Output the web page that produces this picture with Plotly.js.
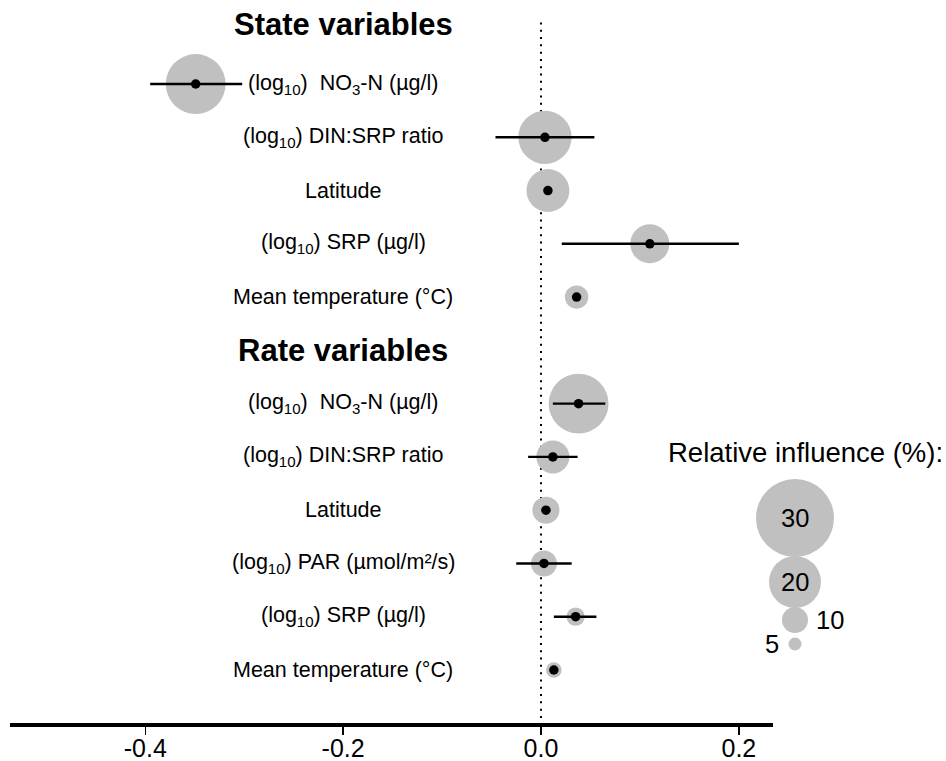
<!DOCTYPE html>
<html>
<head>
<meta charset="utf-8">
<script src="https://cdn.plot.ly/plotly-3.0.1.min.js"></script>
<style>html,body{margin:0;padding:0;background:#fff;}#chart{width:946px;height:761px;}</style>
</head>
<body>
<div id="chart"></div>
<script>
// ---- data ----
const sectionTitles = ['State variables', 'Rate variables'];

const stateLabels = [
  '(log<sub>10</sub>)  NO<sub>3</sub>-N (µg/l)',
  '(log<sub>10</sub>) DIN:SRP ratio',
  'Latitude',
  '(log<sub>10</sub>) SRP (µg/l)',
  'Mean temperature (°C)'
];
const stateEstimate  = [-0.349, 0.004, 0.007, 0.110, 0.036];
const stateLower     = [-0.395, -0.046, 0.007, 0.021, 0.033];
const stateUpper     = [-0.302, 0.054, 0.007, 0.200, 0.039];
const stateInfluence = [23, 20.5, 16.5, 15, 9];

const rateLabels = [
  '(log<sub>10</sub>)  NO<sub>3</sub>-N (µg/l)',
  '(log<sub>10</sub>) DIN:SRP ratio',
  'Latitude',
  '(log<sub>10</sub>) PAR (µmol/m²/s)',
  '(log<sub>10</sub>) SRP (µg/l)',
  'Mean temperature (°C)'
];
const rateEstimate  = [0.038, 0.012, 0.005, 0.003, 0.035, 0.013];
const rateLower     = [0.012, -0.013, 0.005, -0.025, 0.013, 0.010];
const rateUpper     = [0.065, 0.037, 0.005, 0.031, 0.056, 0.016];
const rateInfluence = [23, 12.7, 10.4, 10, 7, 6];

const legendValues = [30, 20, 10, 5];
const legendTitle  = 'Relative influence (%):';
const xTickVals  = [-0.4, -0.2, 0.0, 0.2];
const xTickText  = ['-0.4', '-0.2', '0.0', '0.2'];

// ---- build ----
(function () {
const FONT = 'Liberation Sans, Arial, Helvetica, sans-serif';
const SIZE_PER_PCT = 2.6;     // marker diameter (px) per % of influence
const LABEL_X = -0.2;          // centre of the row labels (data units)
const GREY = '#c0c0c0';

// layout constants for the size key (pixel positions on a full-page helper axis)
const KEY_X = 795;
const KEY_Y = [518, 582, 620, 644];
const KEY_LABEL_X = [KEY_X, KEY_X, 830, 772];

const stateRows = stateLabels.map((_, i) => i + 1);
const rateRows  = rateLabels.map((_, i) => stateLabels.length + 2 + i);
const titleRows = [-0.11, stateLabels.length + 1];

const labels    = stateLabels.concat(rateLabels);
const est       = stateEstimate.concat(rateEstimate);
const lo        = stateLower.concat(rateLower);
const hi        = stateUpper.concat(rateUpper);
const infl      = stateInfluence.concat(rateInfluence);
const rows      = stateRows.concat(rateRows);

const circles = {
  type: 'scatter', mode: 'markers', x: est, y: rows, hoverinfo: 'skip',
  marker: { color: GREY, opacity: 1, size: infl.map(v => v * SIZE_PER_PCT), line: { width: 0 } },
  cliponaxis: false, showlegend: false
};
const dots = {
  type: 'scatter', mode: 'markers', x: est, y: rows, hoverinfo: 'skip',
  marker: { color: '#000', opacity: 1, size: 9.5 },
  error_x: {
    type: 'data', symmetric: false,
    array: hi.map((h, i) => h - est[i]),
    arrayminus: lo.map((l, i) => est[i] - l),
    color: '#000', thickness: 2.4, width: 0
  },
  cliponaxis: false, showlegend: false
};

const legendTrace = {
  type: 'scatter', mode: 'markers', xaxis: 'x2', yaxis: 'y2',
  x: legendValues.map(() => KEY_X), y: KEY_Y,
  marker: { color: GREY, opacity: 1, size: legendValues.map(v => v * SIZE_PER_PCT), line: { width: 0 } },
  hoverinfo: 'skip', cliponaxis: false, showlegend: false
};

const annotations = [];
labels.forEach((t, i) => annotations.push({
  x: LABEL_X, y: rows[i], xref: 'x', yref: 'y', text: t, showarrow: false,
  xanchor: 'center', yanchor: 'middle', font: { family: FONT, size: 21.5, color: '#000' }
}));
sectionTitles.forEach((t, i) => annotations.push({
  x: LABEL_X, y: titleRows[i], xref: 'x', yref: 'y', text: '<b>' + t + '</b>', showarrow: false,
  xanchor: 'center', yanchor: 'middle', font: { family: FONT, size: 31, color: '#000' }
}));
annotations.push({
  x: 805, y: 452, xref: 'x2', yref: 'y2', text: legendTitle, showarrow: false,
  xanchor: 'center', yanchor: 'middle', font: { family: FONT, size: 27.5, color: '#000' }
});
legendValues.forEach((v, i) => annotations.push({
  x: KEY_LABEL_X[i], y: KEY_Y[i], xref: 'x2', yref: 'y2', text: String(v), showarrow: false,
  xanchor: 'center', yanchor: 'middle', font: { family: FONT, size: 25.5, color: '#000' }
}));

const layout = {
  width: 946, height: 761,
  margin: { l: 10, r: 0, t: 0, b: 38 },
  paper_bgcolor: '#fff', plot_bgcolor: 'rgba(0,0,0,0)',
  font: { family: FONT, color: '#000' },
  xaxis: {
    domain: [0, 763 / 936], range: [-0.5367, 0.2345],
    showgrid: false, zeroline: false, showline: true, linewidth: 4, linecolor: '#000',
    ticks: 'outside', ticklen: 8, tickwidth: 1.5, tickcolor: '#000',
    ticklabelstandoff: -8,
    tickvals: xTickVals, ticktext: xTickText,
    tickfont: { family: FONT, size: 25, color: '#000' }
  },
  yaxis: { range: [12.995, -0.577], visible: false, showgrid: false, zeroline: false },
  xaxis2: { domain: [0, 1], range: [10, 946], visible: false, anchor: 'y2' },
  yaxis2: { domain: [0, 1], range: [723, 0], visible: false, anchor: 'x2' },
  shapes: [{
    type: 'line', xref: 'x', yref: 'paper', x0: 0, x1: 0, y0: 0.007, y1: 0.975,
    line: { color: '#000', width: 2, dash: '2px,5.3px' }, layer: 'below'
  }],
  annotations: annotations,
  showlegend: false
};

Plotly.newPlot('chart', [circles, dots, legendTrace], layout, { displayModeBar: false, staticPlot: true });
})();
</script>
</body>
</html>
